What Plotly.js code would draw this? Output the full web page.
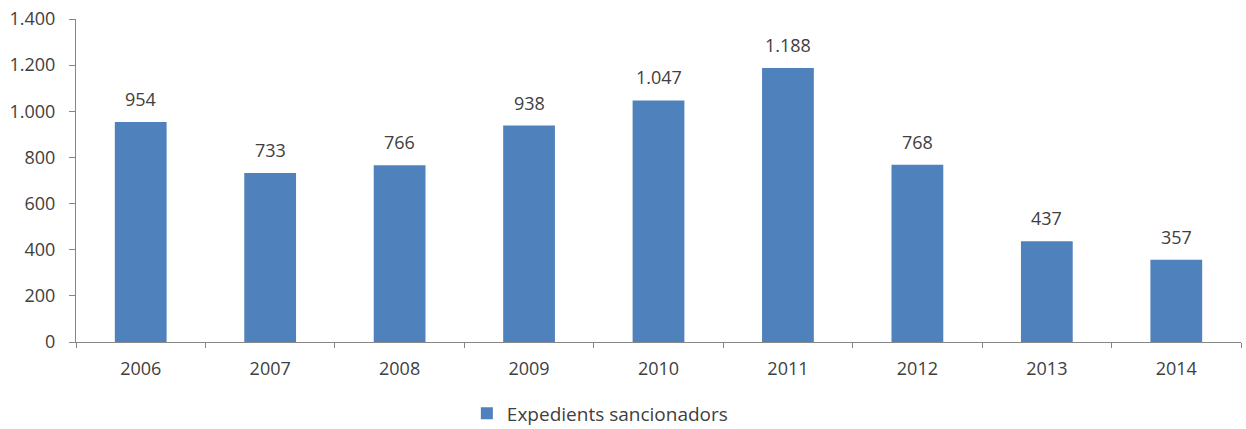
<!DOCTYPE html>
<html>
<head>
<meta charset="utf-8">
<script src="https://cdn.plot.ly/plotly-3.0.1.min.js"></script>
<style>html,body{margin:0;padding:0;background:#fff;}#chart{width:1246px;height:429px;}</style>
</head>
<body>
<div id="chart"></div>
<script>
const years = ['2006','2007','2008','2009','2010','2011','2012','2013','2014'];
const expedients = [954, 733, 766, 938, 1047, 1188, 768, 437, 357];
const seriesName = 'Expedients sancionadors';
const yTickVals = [0, 200, 400, 600, 800, 1000, 1200, 1400];
const yTickText = ['0', '200', '400', '600', '800', '1.000', '1.200', '1.400'];

function fmt(v){ return v.toString().replace(/\B(?=(\d{3})+(?!\d))/g, '.'); }

const font = {family: 'Open Sans, sans-serif', size: 18, color: '#404040'};
const legendFont = {family: 'Open Sans, sans-serif', size: 19, color: '#404040'};

const trace = {
  type: 'bar',
  x: years,
  y: expedients,
  name: seriesName,
  marker: {color: '#4F81BD'},
  showlegend: true,
  hoverinfo: 'x+y'
};

const annotations = years.map((yr, i) => ({
  x: i, y: expedients[i], xref: 'x', yref: 'y',
  text: fmt(expedients[i]), showarrow: false,
  yanchor: 'bottom', yshift: 9, font: font
}));

const layout = {
  width: 1246, height: 429,
  margin: {l: 76, r: 5, t: 19, b: 86.5, autoexpand: false},
  paper_bgcolor: '#ffffff', plot_bgcolor: '#ffffff',
  font: font,
  bargap: 0.6,
  showlegend: true,
  legend: {orientation: 'h', x: 0.3355, xanchor: 'left', y: -0.221, yanchor: 'middle', font: legendFont, bgcolor: 'rgba(0,0,0,0)'},
  xaxis: {
    type: 'category', range: [-0.5, 8.5], autorange: false, automargin: false,
    showline: true, linecolor: '#868686', linewidth: 1,
    ticks: 'outside', tickson: 'boundaries', ticklen: 5, tickcolor: '#868686',
    showgrid: false, zeroline: false, tickfont: font, ticklabelstandoff: 10
  },
  yaxis: {
    range: [0, 1400], autorange: false, automargin: false, tickvals: yTickVals, ticktext: yTickText,
    showline: true, linecolor: '#868686', linewidth: 1,
    ticks: 'outside', ticklen: 6, tickcolor: '#868686',
    showgrid: false, zeroline: false, tickfont: font, ticklabelstandoff: 10
  },
  annotations: annotations
};

Plotly.newPlot('chart', [trace], layout, {displayModeBar: false, staticPlot: true});
</script>
</body>
</html>
